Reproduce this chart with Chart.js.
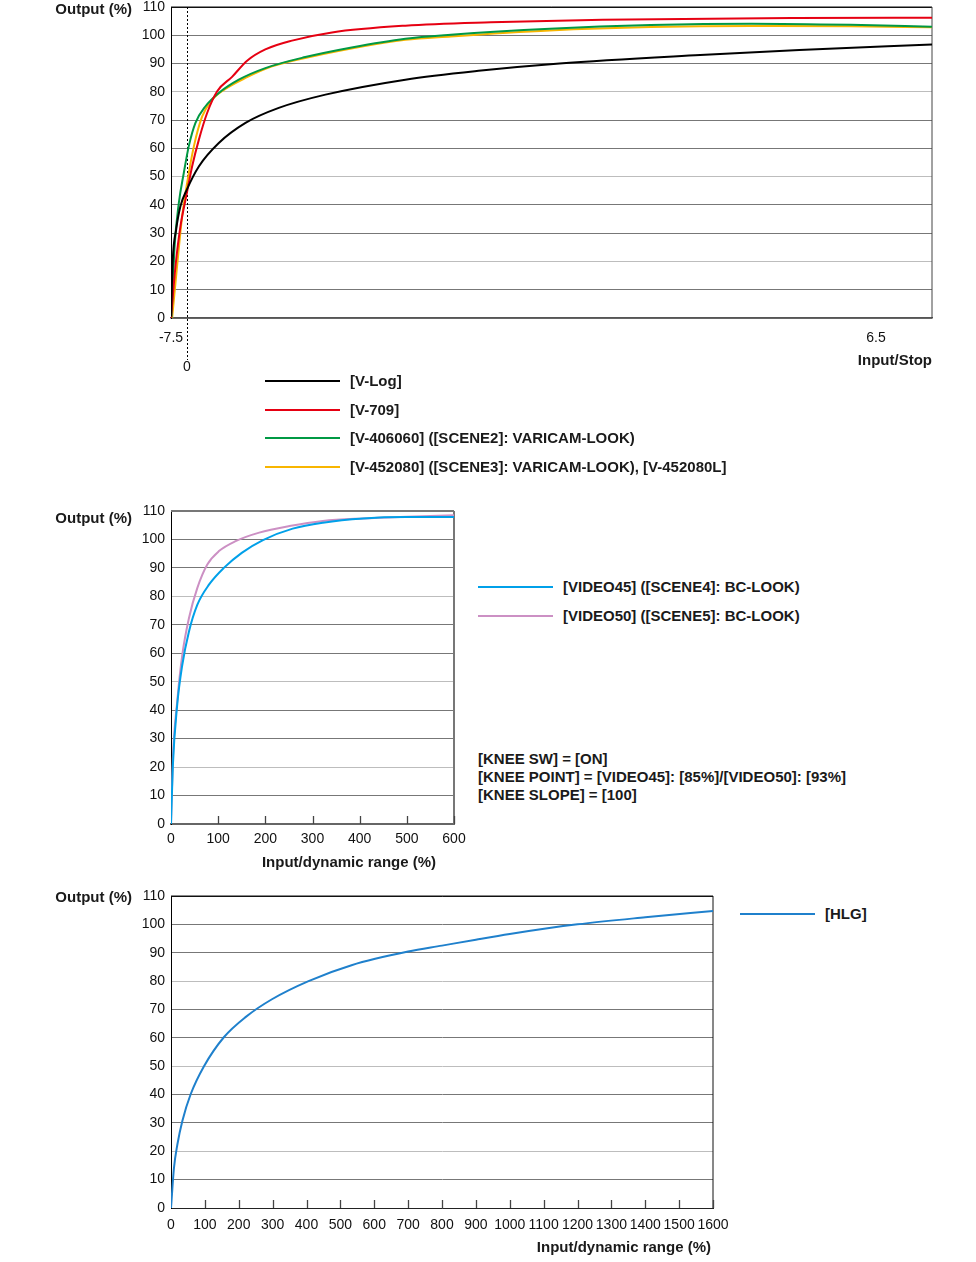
<!DOCTYPE html>
<html>
<head>
<meta charset="utf-8">
<title>Gamma curves</title>
<script src="https://cdn.jsdelivr.net/npm/chart.js@4.4.1/dist/chart.umd.min.js"></script>
<style>
    body { margin: 0; background: #fff; }
    #page { position: relative; width: 976px; height: 1262px; overflow: hidden; }
    canvas { position: absolute; left: 0; }
    .legend { position: absolute; font: bold 15px "Liberation Sans", Arial, sans-serif; color: #1a1a1a; }
    .legend .item { position: absolute; left: 0; height: 18px; line-height: 18px; white-space: nowrap; }
    .legend .swatch { position: absolute; left: 0; top: 8px; width: 75px; height: 2px; }
    .legend .text { position: absolute; left: 85px; top: 0; }
    .note { position: absolute; left: 478px; top: 750px; font: bold 15px/18px "Liberation Sans", Arial, sans-serif; color: #1a1a1a; white-space: nowrap; }
</style>
</head>
<body>
<div id="page">
    <canvas id="stopChart" width="976" height="380" style="top:0"></canvas>
    <div class="legend" id="stopLegend" style="left:265px; top:372px"></div>

    <canvas id="videoChart" width="470" height="380" style="top:495px"></canvas>
    <div class="legend" id="videoLegend" style="left:478px; top:578px"></div>
    <div class="note">[KNEE SW] = [ON]<br>[KNEE POINT] = [VIDEO45]: [85%]/[VIDEO50]: [93%]<br>[KNEE SLOPE] = [100]</div>

    <canvas id="hlgChart" width="740" height="382" style="top:880px"></canvas>
    <div class="legend" id="hlgLegend" style="left:740px; top:905px"></div>
</div>

<script>
// ---- chart 1: input in stops (axis unit: 0 = -7.5 stop, 1 = 0 stop) ----
const stopTicks = [0, 1, 44.1];
const stopLabels = ['-7.5', '0', '6.5'];
const stopMax = 47.6;

const vlogIn = [0, 0.11, 0.32, 0.59, 0.99, 1.74, 2.99, 4.66, 6.74, 9.66, 14.66, 19.4, 24.3, 33.1, 39.3, 47.6];
const vlogOut = [0.5, 20.6, 31.2, 39.5, 45.4, 53.6, 61.9, 69, 74.3, 79, 84.3, 87.5, 90, 93, 94.8, 96.7];

const v709In = [0, 0.28, 0.59, 0.95, 1.32, 1.74, 2.26, 2.89, 3.82, 4.76, 5.9, 7.57, 10.07, 14.66, 20, 27, 39, 47.6];
const v709Out = [0, 18.3, 32.4, 43, 53.6, 63, 72.5, 80.2, 85.3, 91, 95, 98.1, 101, 103.4, 104.6, 105.5, 106.1, 106.2];

const v406060In = [0.03, 0.22, 0.49, 0.8, 1.11, 1.53, 2.16, 2.99, 4.24, 5.9, 8.4, 11.3, 14.66, 17.5, 23.7, 30, 36.3, 42.5, 47.6];
const v406060Out = [0, 25, 40.7, 51.3, 60.7, 69, 74.9, 79.6, 84.3, 88.4, 92.3, 95.7, 98.8, 100.2, 102.3, 103.6, 104.1, 103.7, 103];

const v452080In = [0.07, 0.38, 0.7, 1.01, 1.43, 1.95, 2.58, 3.4, 4.66, 6.32, 8.82, 14.66, 17.5, 23.7, 30, 36.3, 42.5, 47.6];
const v452080Out = [0, 18.3, 36, 47.8, 60.7, 71.3, 77.2, 81, 84.9, 89, 92.5, 98.4, 99.6, 101.7, 102.9, 103.3, 103.2, 102.8];

// ---- chart 2: input / dynamic range (%) ----
const video45In = [0, 3.9, 13, 23.8, 38, 55.7, 80.5, 112, 150, 195, 258, 322, 407, 500, 600];
const video45Out = [0, 20.4, 41.6, 55.8, 67.6, 77, 84.1, 90, 95.3, 99.8, 103.8, 105.9, 107.4, 107.9, 107.9];
const video50In = [0, 3.9, 13, 23.8, 38, 55.7, 77, 101.7, 137, 187, 251, 322, 407, 500, 600];
const video50Out = [0, 22.8, 42.8, 59.3, 72.3, 82.9, 91.2, 95.9, 99.4, 102.4, 104.7, 106.5, 107.4, 108, 108.5];

// ---- chart 3: HLG ----
const hlgIn = [0, 8.8, 18.8, 33.5, 58, 97, 156, 220, 298, 406, 533, 700, 800, 900, 1000, 1200, 1400, 1600];
const hlgOut = [0, 14.2, 22.4, 30.7, 40.1, 49.9, 60.2, 67.3, 73.6, 80, 85.6, 90.4, 92.5, 94.6, 96.6, 100, 102.5, 104.7];

const FONT = '"Liberation Sans", Arial, Helvetica, sans-serif';
Chart.defaults.font.family = FONT;
Chart.defaults.font.size = 14;
Chart.defaults.color = '#111';

function points(xs, ys) {
    return xs.map((x, i) => ({ x: x, y: ys[i] }));
}

function line(label, color, xs, ys) {
    return {
        label: label,
        data: points(xs, ys),
        borderColor: color,
        borderWidth: 2,
        pointRadius: 0,
        fill: false,
        cubicInterpolationMode: 'monotone'
    };
}

// frame, inward ticks, dashed marker and the axis captions
const decorPlugin = {
    id: 'decor',
    beforeDatasetsDraw(chart, args, opts) {
        const { ctx, chartArea: a } = chart;
        const xs = chart.scales.x;
        ctx.save();
        ctx.lineWidth = opts.frameWidth || 1;
        ctx.strokeStyle = opts.topColor;
        ctx.beginPath(); ctx.moveTo(a.left, a.top); ctx.lineTo(a.right, a.top); ctx.stroke();
        ctx.strokeStyle = opts.rightColor;
        ctx.beginPath(); ctx.moveTo(a.right, a.top); ctx.lineTo(a.right, a.bottom); ctx.stroke();

        if (opts.innerTicks) {
            ctx.strokeStyle = '#444';
            ctx.lineWidth = 1.3;
            xs.ticks.forEach(t => {
                const px = Math.round(xs.getPixelForValue(t.value)) + 0.5;
                if (px <= a.left + 1) return;
                ctx.beginPath(); ctx.moveTo(px, a.bottom); ctx.lineTo(px, a.bottom - 8); ctx.stroke();
            });
        }

        if (opts.marker !== undefined) {
            const px = Math.round(xs.getPixelForValue(opts.marker)) + 0.5;
            ctx.strokeStyle = '#000';
            ctx.lineWidth = 1;
            ctx.setLineDash([2, 2]);
            ctx.beginPath(); ctx.moveTo(px, a.top); ctx.lineTo(px, a.bottom + 42); ctx.stroke();
            ctx.setLineDash([]);
        }

        ctx.font = 'bold 15px ' + FONT;
        ctx.fillStyle = '#1a1a1a';
        ctx.textBaseline = 'middle';
        ctx.textAlign = 'right';
        ctx.fillText('Output (%)', 132, opts.yTitleY);
        ctx.textAlign = opts.xTitleAlign;
        ctx.fillText(opts.xTitle, a.left + opts.xTitleDx, a.bottom + opts.xTitleDy);
        ctx.restore();
    }
};

function gridColor(top) {
    return c => {
        const v = c.tick.value;
        if (v === 110) return top;
        if (v === 20 || v === 50 || v === 80) return '#bdbdbd';
        return '#777';
    };
}

function yAxis(top) {
    return {
        min: 0, max: 110,
        ticks: { stepSize: 10, padding: 6, color: '#111' },
        grid: { color: gridColor(top), drawTicks: false, lineWidth: 1 },
        border: { color: '#000', width: 1 },
        afterFit(scale) {
            scale.width = 171;
            scale.paddingTop = 0;
            scale.paddingBottom = 0;
        }
    };
}

function buildLegend(chart, id, spacing) {
    const el = document.getElementById(id);
    chart.data.datasets.forEach((ds, i) => {
        const row = document.createElement('div');
        row.className = 'item';
        row.style.top = (i * spacing) + 'px';
        row.innerHTML = '<span class="swatch" style="background:' + ds.borderColor + '"></span>' +
            '<span class="text">' + ds.label + '</span>';
        el.appendChild(row);
    });
}

const stopChart = new Chart(document.getElementById('stopChart'), {
    type: 'line',
    data: {
        datasets: [
            line('[V-Log]', '#000000', vlogIn, vlogOut),
            line('[V-709]', '#e60012', v709In, v709Out),
            line('[V-406060] ([SCENE2]: VARICAM-LOOK)', '#009944', v406060In, v406060Out),
            line('[V-452080] ([SCENE3]: VARICAM-LOOK), [V-452080L]', '#f8b500', v452080In, v452080Out)
        ]
    },
    options: {
        responsive: false,
        animation: false,
        layout: { padding: { top: 7, right: 44, left: 0, bottom: 0 } },
        plugins: {
            legend: { display: false },
            tooltip: { enabled: false },
            decor: {
                topColor: '#111', rightColor: '#444', marker: stopTicks[1],
                yTitleY: 10, xTitle: 'Input/Stop', xTitleAlign: 'right', xTitleDx: 761, xTitleDy: 43
            }
        },
        scales: {
            x: {
                type: 'linear', min: 0, max: stopMax,
                afterBuildTicks(axis) { axis.ticks = stopTicks.map(v => ({ value: v })); },
                ticks: {
                    autoSkip: false, maxRotation: 0, padding: 5,
                    font: { size: 14, lineHeight: 2.1 },
                    callback(v) {
                        const i = stopTicks.indexOf(v);
                        if (i === 1) return ['', stopLabels[i]];
                        return stopLabels[i];
                    }
                },
                grid: { drawOnChartArea: false, drawTicks: false },
                border: { color: '#555', width: 1.5 },
                afterFit(scale) { scale.height = 62; }
            },
            y: yAxis('#111')
        }
    },
    plugins: [decorPlugin]
});
buildLegend(stopChart, 'stopLegend', 28.5);

const videoChart = new Chart(document.getElementById('videoChart'), {
    type: 'line',
    data: {
        datasets: [
            line('[VIDEO45] ([SCENE4]: BC-LOOK)', '#00a0e9', video45In, video45Out),
            line('[VIDEO50] ([SCENE5]: BC-LOOK)', '#cc90c4', video50In, video50Out)
        ]
    },
    options: {
        responsive: false,
        animation: false,
        layout: { padding: { top: 16, right: 16, left: 0, bottom: 0 } },
        plugins: {
            legend: { display: false },
            tooltip: { enabled: false },
            decor: {
                topColor: '#777', rightColor: '#777', frameWidth: 2, innerTicks: true,
                yTitleY: 24, xTitle: 'Input/dynamic range (%)', xTitleAlign: 'center', xTitleDx: 178, xTitleDy: 39
            }
        },
        scales: {
            x: {
                type: 'linear', min: 0, max: 600,
                ticks: { stepSize: 100, autoSkip: false, maxRotation: 0, padding: 7 },
                grid: { drawOnChartArea: false, drawTicks: false },
                border: { color: '#666', width: 2 },
                afterFit(scale) {
                    scale.height = 51;
                    scale.paddingRight = 0;
                }
            },
            y: yAxis('#777')
        }
    },
    plugins: [decorPlugin]
});
buildLegend(videoChart, 'videoLegend', 29);

const hlgChart = new Chart(document.getElementById('hlgChart'), {
    type: 'line',
    data: {
        datasets: [
            line('[HLG]', '#1f80cc', hlgIn, hlgOut)
        ]
    },
    options: {
        responsive: false,
        animation: false,
        layout: { padding: { top: 16, right: 27, left: 0, bottom: 0 } },
        plugins: {
            legend: { display: false },
            tooltip: { enabled: false },
            decor: {
                topColor: '#111', rightColor: '#111', innerTicks: true,
                yTitleY: 18, xTitle: 'Input/dynamic range (%)', xTitleAlign: 'right', xTitleDx: 540, xTitleDy: 40
            }
        },
        scales: {
            x: {
                type: 'linear', min: 0, max: 1600,
                ticks: { stepSize: 100, autoSkip: false, maxRotation: 0, padding: 9, callback: v => String(v) },
                grid: { drawOnChartArea: false, drawTicks: false },
                border: { color: '#222', width: 1 },
                afterFit(scale) {
                    scale.height = 54;
                    scale.paddingRight = 0;
                }
            },
            y: yAxis('#111')
        }
    },
    plugins: [decorPlugin]
});
buildLegend(hlgChart, 'hlgLegend', 29);
</script>
</body>
</html>
